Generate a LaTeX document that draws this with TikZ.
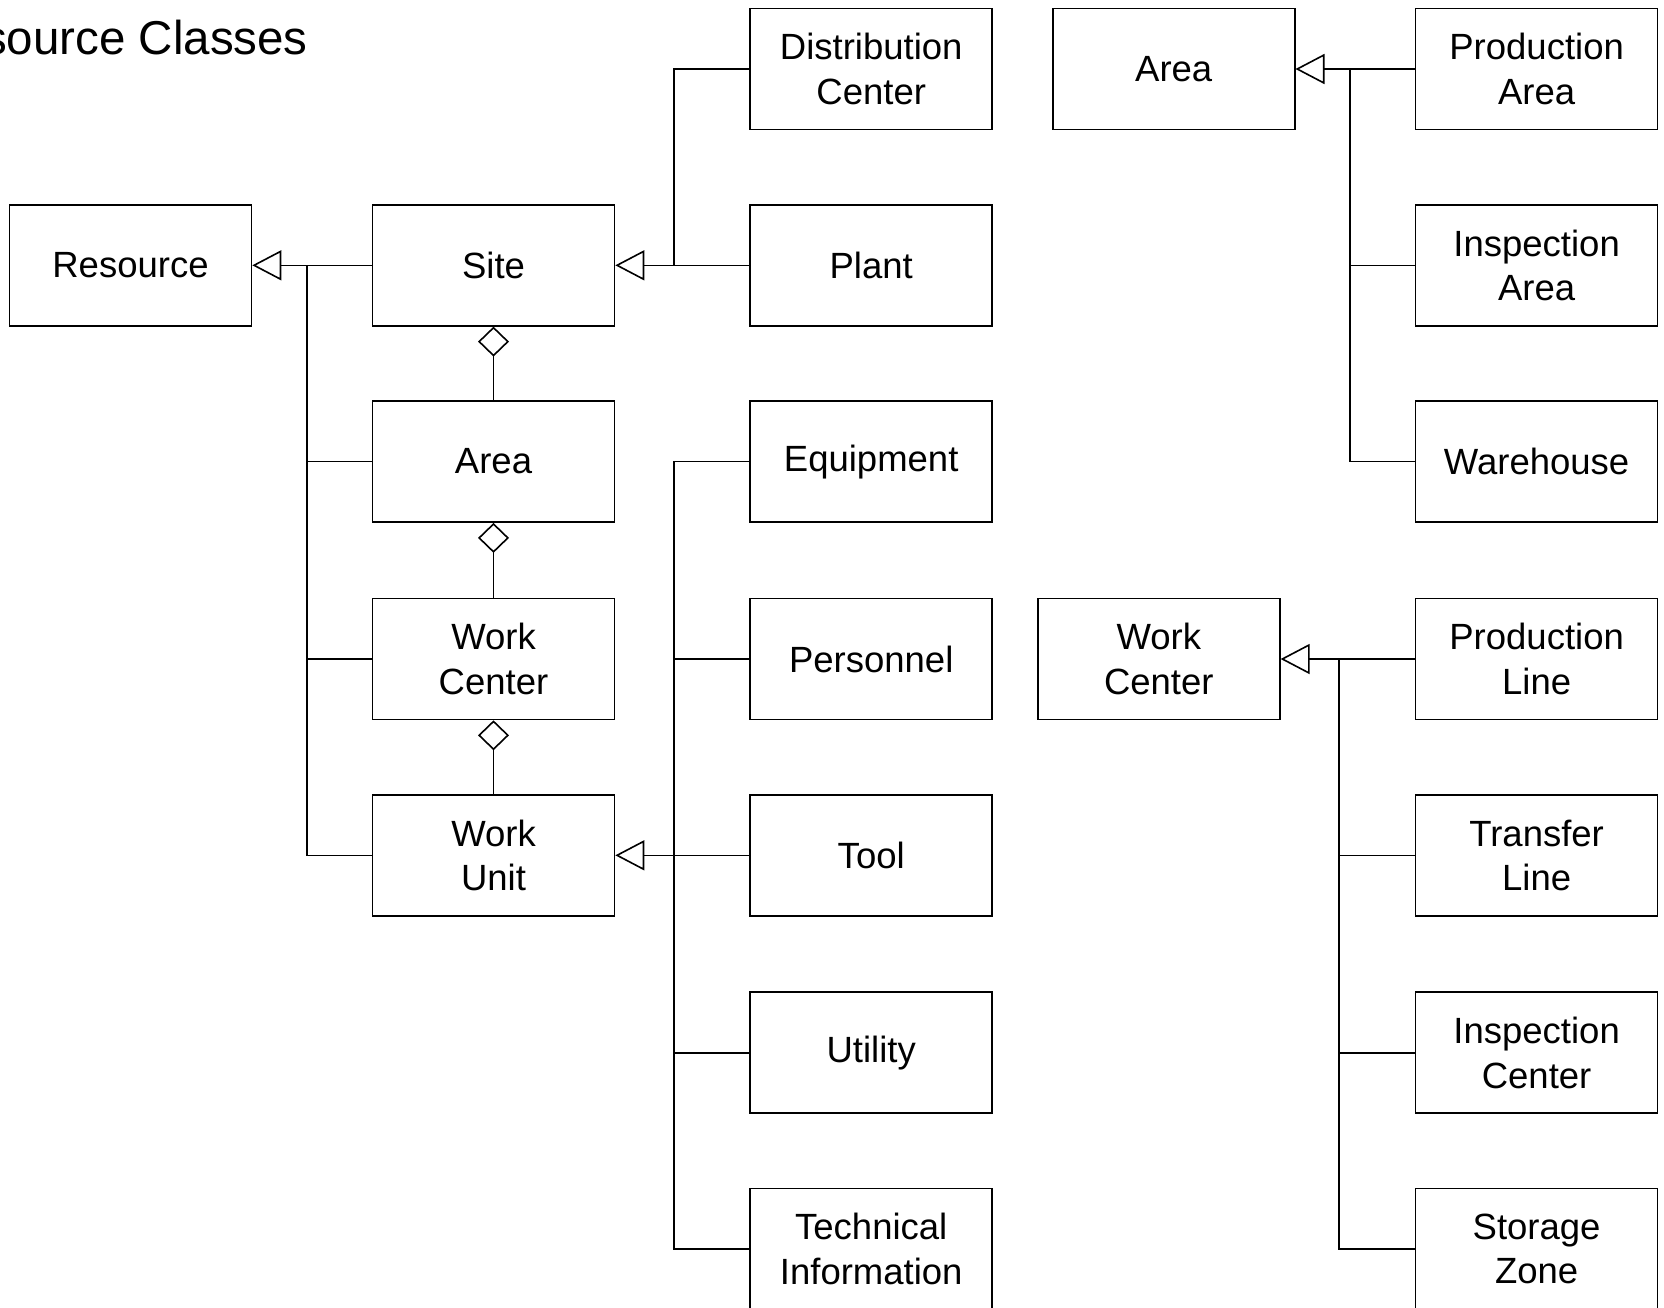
\documentclass[tikz,border=0pt]{standalone}
\usepackage{fontspec}
\setmainfont{Liberation Sans}
\usetikzlibrary{arrows.meta}
\tikzset{
  cls/.style={draw, line width=1.6pt, minimum width=242pt, minimum height=121pt,
    inner sep=0pt, align=center, font=\fontsize{36.5pt}{44.5pt}\selectfont},
  conn/.style={line width=1.6pt},
  inh/.style={conn, -{Triangle[open, length=29pt, width=30pt]}},
  agg/.style={conn, -{Diamond[open, length=30pt, width=31pt]}}
}
\begin{document}
\begin{tikzpicture}[x=1pt,y=-1pt]
\useasboundingbox (0,0) rectangle (1664,1307);
% title
\node[anchor=base east, inner sep=0pt, font=\fontsize{47.5pt}{56pt}\selectfont] (title) at (308,54) {Resource Classes};
% left hierarchy
\node[cls] (resource) at (130.5,265.3) {Resource};
\node[cls] (site) at (493.5,265.3) {Site};
\node[cls] (area) at (493.5,461.6) {Area};
\node[cls] (wc) at (493.5,659) {Work\\Center};
\node[cls] (wu) at (493.5,855.3) {Work\\Unit};
% middle column
\node[cls] (dc) at (871.2,69) {Distribution\\Center};
\node[cls] (plant) at (871.2,265.3) {Plant};
\node[cls] (equip) at (871.2,461.6) {Equipment};
\node[cls] (pers) at (871.2,659) {Personnel};
\node[cls] (tool) at (871.2,855.3) {Tool};
\node[cls] (util) at (871.2,1052.7) {Utility};
\node[cls] (tech) at (871.2,1249) {Technical\\Information};
% right top
\node[cls] (area2) at (1173.7,69) {Area};
\node[cls] (parea) at (1536.6,69) {Production\\Area};
\node[cls] (iarea) at (1536.6,265.3) {Inspection\\Area};
\node[cls] (wh) at (1536.6,461.6) {Warehouse};
% right bottom
\node[cls] (wc2) at (1158.8,659) {Work\\Center};
\node[cls] (pline) at (1536.6,659) {Production\\Line};
\node[cls] (tline) at (1536.6,855.3) {Transfer\\Line};
\node[cls] (icenter) at (1536.6,1052.7) {Inspection\\Center};
\node[cls] (szone) at (1536.6,1249) {Storage\\Zone};
% junction coordinates
\coordinate (j1) at (307,265.3);
\coordinate (j2) at (674,265.3);
\coordinate (j3) at (674,855.3);
\coordinate (j4) at (1350,69);
\coordinate (j5) at (1339,659);
% Resource generalization
\draw[inh] (site.west) -- (resource.east);
\draw[conn] (area.west) -- (area.west -| j1);
\draw[conn] (wc.west) -- (wc.west -| j1);
\draw[conn] (wu.west) -| (j1);
% Site generalization
\draw[inh] (plant.west) -- (site.east);
\draw[conn] (dc.west) -| (j2);
% Work Unit generalization
\draw[inh] (tool.west) -- (wu.east);
\draw[conn] (equip.west) -| (tech.west -| j3) -- (tech.west);
\draw[conn] (pers.west) -- (pers.west -| j3);
\draw[conn] (util.west) -- (util.west -| j3);
% aggregation
\draw[agg] (area.north) -- (site.south);
\draw[agg] (wc.north) -- (area.south);
\draw[agg] (wu.north) -- (wc.south);
% Area (right) generalization
\draw[inh] (parea.west) -- (area2.east);
\draw[conn] (wh.west) -| (j4);
\draw[conn] (iarea.west) -- (iarea.west -| j4);
% Work Center (right) generalization
\draw[inh] (pline.west) -- (wc2.east);
\draw[conn] (szone.west) -| (j5);
\draw[conn] (tline.west) -- (tline.west -| j5);
\draw[conn] (icenter.west) -- (icenter.west -| j5);
\end{tikzpicture}
\end{document}
